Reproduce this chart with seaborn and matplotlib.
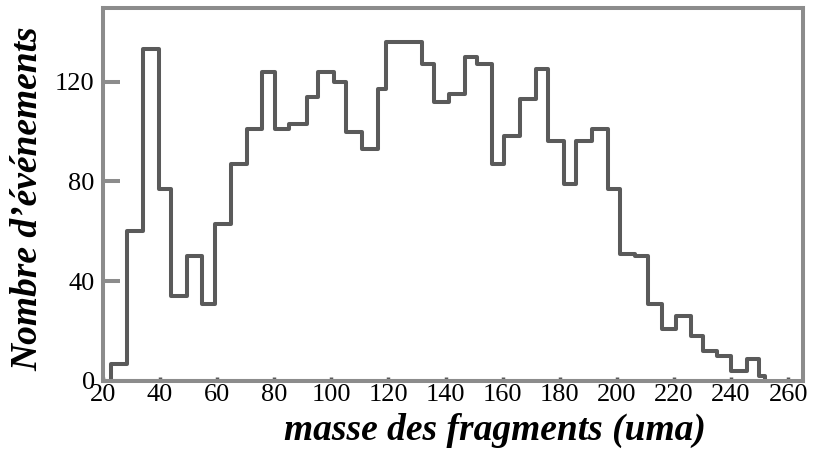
import numpy as np
import pandas as pd
import matplotlib
matplotlib.use("Agg")
import matplotlib.pyplot as plt
import seaborn as sns

# bin edges (uma) and counts
edges = [22.9, 28.5, 34.1, 39.7, 43.9, 49.3, 54.8, 59.2, 64.8, 70.3,
         75.8, 80.1, 85.0, 91.3, 95.4, 101.0, 105.2, 110.8, 116.4, 119.1,
         131.7, 135.9, 141.1, 146.7, 150.9, 156.4, 160.6, 166.2, 171.8, 176.0,
         181.5, 185.7, 191.3, 196.9, 201.1, 206.3, 210.8, 215.7, 220.6, 226.1,
         230.3, 235.2, 240.1, 245.7, 249.9, 251.9]
counts = [7, 60, 133, 77, 34, 50, 31, 63, 87, 101,
          124, 101, 103, 114, 124, 120, 100, 93, 117, 136,
          127, 112, 115, 130, 127, 87, 98, 113, 125, 96,
          79, 96, 101, 77, 51, 50, 31, 21, 26, 18,
          12, 10, 4, 9, 2]
xticks = [20, 40, 60, 80, 100, 120, 140, 160, 180, 200, 220, 240, 260]
yticks = [0, 40, 80, 120]

df = pd.DataFrame({"masse": [(a + b) / 2 for a, b in zip(edges[:-1], edges[1:])],
                   "n": counts})

sns.set_style("white")
plt.rcParams['font.family'] = ['Liberation Serif', 'DejaVu Serif']
plt.rcParams['text.color'] = 'black'
plt.rcParams['axes.labelcolor'] = 'black'
plt.rcParams['xtick.labelcolor'] = 'black'
plt.rcParams['ytick.labelcolor'] = 'black'

fig = plt.figure(figsize=(8.13, 4.53), dpi=100)
ax = fig.add_axes([0.1267, 0.159, 0.861, 0.8233])

sns.histplot(data=df, x="masse", weights="n", bins=edges, element="step",
             fill=True, color="#5a5a5a", linewidth=2.9, ax=ax)
for c in ax.collections:
    c.set_facecolor("none")
    c.set_edgecolor("#5a5a5a")
    c.set_linewidth(2.9)

ax.set_xlim(21.2, 265.2)
ax.set_ylim(0, 149.5)
ax.set_xticks(xticks)
ax.set_yticks(yticks)

for s in ax.spines.values():
    s.set_color("#8c8c8c")
    s.set_linewidth(2.9)
    s.set_visible(True)

ax.tick_params(axis="y", direction="in", length=12, width=2.9, color="#8c8c8c",
               labelsize=19, labelcolor="black", pad=6, left=True)
ax.tick_params(axis="x", direction="in", length=3, width=2.5, color="#5a5a5a",
               labelsize=19, labelcolor="black", pad=2, bottom=True)

ax.set_xlabel("masse des fragments (uma)", fontsize=27, fontweight="bold",
              fontstyle="italic", color="black")
ax.set_ylabel("Nombre d\u2019événements", fontsize=27, fontweight="bold",
              fontstyle="italic", color="black")
ax.xaxis.set_label_coords(0.56, -0.085)
ax.yaxis.set_label_coords(-0.082, 0.49)

fig.savefig("out.png", dpi=100)
